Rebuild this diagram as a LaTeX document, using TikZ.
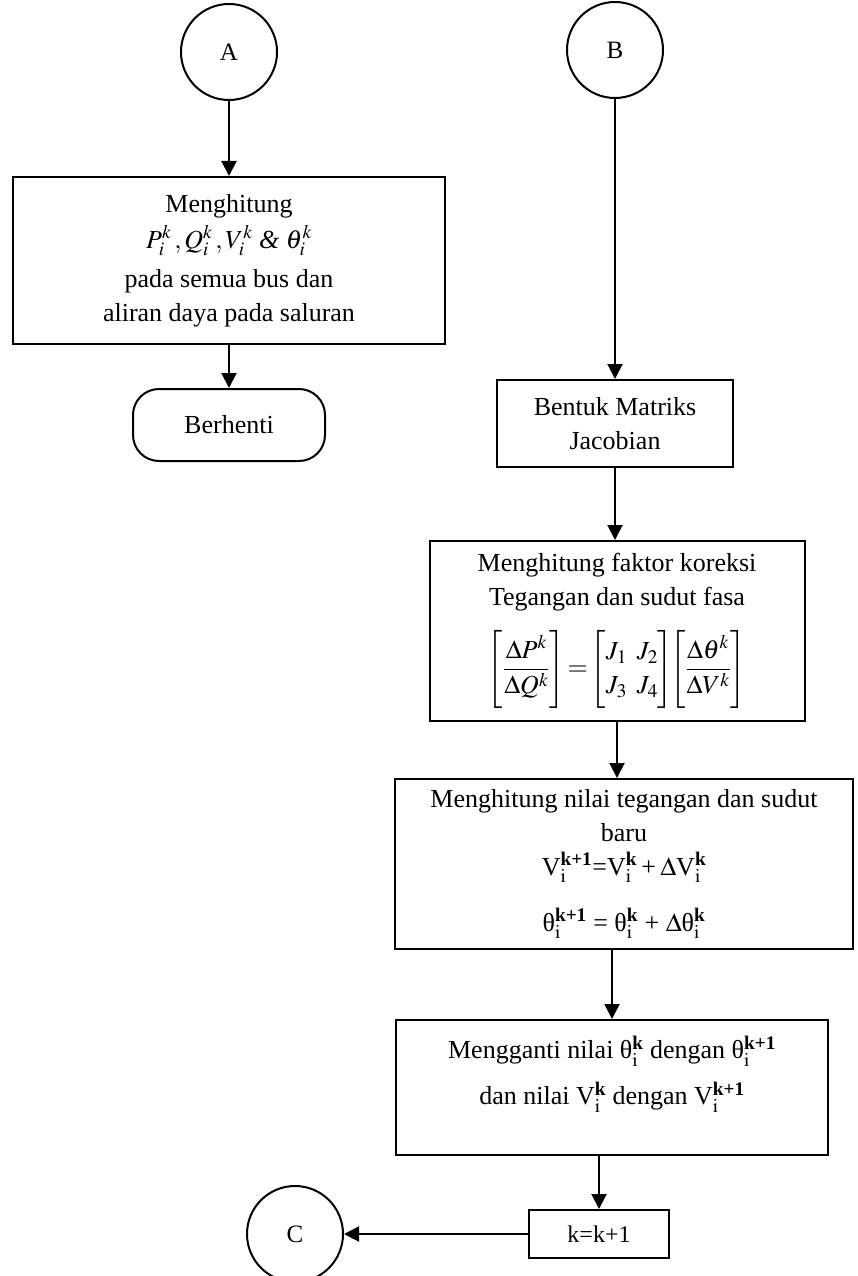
\documentclass[tikz,border=0pt]{standalone}
\usepackage{amsmath}
\usepackage{mathptmx}
\usepackage{fontspec}
\setmainfont{Liberation Serif}
\usetikzlibrary{arrows.meta,positioning,shapes.geometric}

\begin{document}
\begin{tikzpicture}[
    x=1pt, y=-1pt,
    font=\fontsize{26}{34}\selectfont,
    conn/.style={draw, circle, minimum size=96pt, inner sep=0pt, line width=2pt, font=\fontsize{25}{30}\selectfont},
    proc/.style={draw, rectangle, align=center, inner sep=0pt, line width=2pt},
    term/.style={draw, rectangle, rounded corners=26pt, align=center, inner sep=0pt, line width=2pt},
    flow/.style={-{Triangle[length=15pt,width=15pt]}, line width=2pt}
]
\useasboundingbox (0,0) rectangle (858,1276);

% kiri: A
\node[conn] (conA) at (229,52) {A};
\node[proc, minimum width=432pt, minimum height=167pt, below=75pt of conA] (hitung)
    {Menghitung\\[2pt] $P_i^k\,, Q_i^k\,, V_i^k$ \textit{\&} $\theta_i^k$\\[5pt] pada semua bus dan\\ aliran daya pada saluran};
\node[term, minimum width=192pt, minimum height=72pt, below=43pt of hitung] (stop) {Berhenti};

% kanan: B
\node[conn] (conB) at (615,50) {B};
\node[proc, minimum width=236pt, minimum height=87pt, below=280pt of conB] (jacobian) {Bentuk Matriks\\ Jacobian};
\node[proc, minimum width=375pt, minimum height=180pt, below=72pt of jacobian, xshift=2pt] (koreksi)
    {Menghitung faktor koreksi\\ Tegangan dan sudut fasa\\[18pt]
     $\displaystyle \left[\frac{\Delta P^k}{\Delta Q^k}\right]\!=\!\begin{bmatrix} J_1 & J_2\\ J_3 & J_4\end{bmatrix}\!\!\left[\frac{\Delta\theta^k}{\Delta V^k}\right]$};
\node[proc, minimum width=458pt, minimum height=170pt, below=56pt of koreksi, xshift=7pt] (baru)
    {Menghitung nilai tegangan dan sudut\\ baru\\
     V$_{\mathrm{i}}^{\textbf{k+1}}$=V$_{\mathrm{i}}^{\textbf{k}}$\,+\,$\Delta$V$_{\mathrm{i}}^{\textbf{k}}$\\[22pt]
     θ$_{\mathrm{i}}^{\textbf{k+1}}$ = θ$_{\mathrm{i}}^{\textbf{k}}$ + $\Delta$θ$_{\mathrm{i}}^{\textbf{k}}$};
\node[proc, minimum width=432pt, minimum height=135pt, below=69pt of baru, xshift=-12pt] (ganti)
    {Mengganti nilai θ$_{\mathrm{i}}^{\textbf{k}}$ dengan θ$_{\mathrm{i}}^{\textbf{k+1}}$\\[12pt]
     dan nilai V$_{\mathrm{i}}^{\textbf{k}}$ dengan V$_{\mathrm{i}}^{\textbf{k+1}}$\\ \mbox{}};
\node[proc, minimum width=140pt, minimum height=48pt, below=53pt of ganti, xshift=-13pt, font=\fontsize{24}{28}\selectfont] (iter) {k=k+1};
\node[conn, left=184pt of iter] (conC) {C};

\draw[flow] (conA) -- (hitung);
\draw[flow] (hitung) -- (stop);
\draw[flow] (conB) -- (jacobian);
\draw[flow] (jacobian.south) -- (jacobian.south |- koreksi.north);
\draw[flow] (koreksi.south) -- (koreksi.south |- baru.north);
\draw[flow] (baru.south -| ganti.north) -- (ganti.north);
\draw[flow] (ganti.south -| iter.north) -- (iter.north);
\draw[flow] (iter) -- (conC);
\end{tikzpicture}
\end{document}
